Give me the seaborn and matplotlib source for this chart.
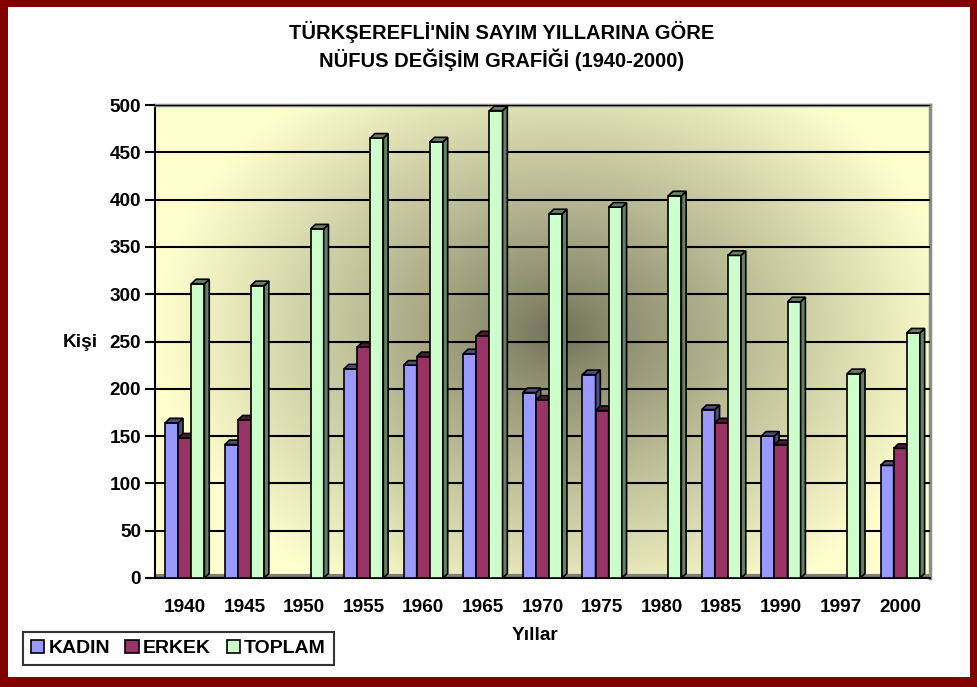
import numpy as np
import pandas as pd
import seaborn as sns
import matplotlib.pyplot as plt
from matplotlib.patches import Polygon, Rectangle, Patch

# --- veri ---
years = ['1940', '1945', '1950', '1955', '1960', '1965', '1970',
         '1975', '1980', '1985', '1990', '1997', '2000']
kadin = [164, 141, np.nan, 221, 225, 237, 196, 215, np.nan, 178, 150, np.nan, 119]
erkek = [148, 167, np.nan, 244, 234, 256, 188, 177, np.nan, 164, 141, np.nan, 137]
toplam = [311, 309, 369, 465, 461, 494, 385, 392, 404, 341, 292, 216, 259]
series = ['KADIN', 'ERKEK', 'TOPLAM']
colors = ['#9999FF', '#993366', '#CCFFCC']
side_colors = ['#4D4D80', '#4D1A33', '#668066']

df = pd.DataFrame({
    'Yıl': years * 3,
    'Seri': np.repeat(series, len(years)),
    'Kişi': kadin + erkek + toplam,
})

sns.set_style('white')
plt.rcParams['font.family'] = ['Liberation Sans', 'DejaVu Sans']
plt.rcParams['font.weight'] = 'bold'
plt.rcParams['text.color'] = 'black'
plt.rcParams['xtick.color'] = 'black'
plt.rcParams['ytick.color'] = 'black'
plt.rcParams['xtick.labelcolor'] = 'black'
plt.rcParams['ytick.labelcolor'] = 'black'

fig = plt.figure(figsize=(9.77, 6.87), dpi=100, facecolor='#800000')
# beyaz iç alan (bordo çerçeve)
fig.patches.append(Rectangle((8 / 977, 10 / 687), (977 - 15) / 977, (687 - 17) / 687,
                             transform=fig.transFigure, fc='white', ec='none', zorder=-10))

ax = fig.add_axes([155 / 977, (687 - 578) / 687, 775 / 977, 473 / 687])

# --- arka plan: ortadan koyulaşan degrade ---
gx, gy = np.meshgrid(np.linspace(0, 1, 300), np.linspace(1, 0, 200))
d = np.sqrt(((gx - 0.52) / 0.52) ** 2 + ((gy - 0.52) / 0.65) ** 2)
t = np.clip(d, 0, 1) ** 0.85
c0 = np.array([112, 112, 88]) / 255
c1 = np.array([255, 255, 206]) / 255
grad = c0 + (c1 - c0) * t[..., None]
ax.imshow(grad, extent=(-0.5, 12.5, 0, 500), aspect='auto', zorder=0,
          interpolation='bilinear')

sns.barplot(data=df, x='Yıl', y='Kişi', hue='Seri', hue_order=series, order=years,
            palette=colors, saturation=1, width=0.66, edgecolor='black',
            linewidth=1.2, errorbar=None, legend=False, ax=ax)

# --- 3B görünüm: yan ve üst yüzler ---
dx, dy = 0.08, 4.8
for i, cont in enumerate(ax.containers):
    for bar in cont:
        x, w, h = bar.get_x(), bar.get_width(), bar.get_height()
        if not np.isfinite(h):
            continue
        bar.set_zorder(3 + i)
        side = Polygon([(x + w, 0), (x + w + dx, dy), (x + w + dx, h + dy), (x + w, h)],
                       closed=True, fc=side_colors[i], ec='black', lw=1.2, zorder=3 + i)
        top = Polygon([(x, h), (x + dx, h + dy), (x + w + dx, h + dy), (x + w, h)],
                      closed=True, fc=side_colors[i], ec='black', lw=1.2, zorder=3 + i)
        ax.add_patch(side)
        ax.add_patch(top)

# zemin
ax.axhline(2.5, color='#808080', lw=3, zorder=1)

ax.set_xlim(-0.5, 12.5)
ax.set_ylim(0, 500)
ax.set_yticks(np.arange(0, 501, 50))
ax.yaxis.grid(True, color='black', lw=1.5, zorder=1)
ax.xaxis.grid(False)
ax.set_axisbelow(False)
for gl in ax.get_ygridlines():
    gl.set_zorder(1)

ax.set_xticks(range(len(years)))
ax.set_xticklabels(years)
ax.set_xticks(np.arange(-0.5, 13, 1), minor=True)
ax.tick_params(axis='x', which='major', length=0, pad=15, labelsize=13.7)
ax.tick_params(axis='x', which='minor', length=7, width=1.5, color='black', direction='out')
ax.tick_params(axis='y', length=7, width=1.5, color='black', direction='out', pad=3,
               labelsize=13.7, left=True)
for lab in ax.get_xticklabels() + ax.get_yticklabels():
    lab.set_fontweight('bold')

ax.set_xlabel('')
ax.set_ylabel('')
for s in ['left', 'bottom']:
    ax.spines[s].set_color('black')
    ax.spines[s].set_linewidth(1.5)
for s in ['top', 'right']:
    ax.spines[s].set_color('#8c8c8c')
    ax.spines[s].set_linewidth(2.5)

# --- metinler ---
fig.text(502 / 977, 1 - 32 / 687, "TÜRKŞEREFLİ'NİN SAYIM YILLARINA GÖRE",
         ha='center', va='center', fontsize=14.5, fontweight='bold')
fig.text(502 / 977, 1 - 60 / 687, "NÜFUS DEĞİŞİM GRAFİĞİ (1940-2000)",
         ha='center', va='center', fontsize=14.5, fontweight='bold')
fig.text(80 / 977, 1 - 342 / 687, 'Kişi', ha='center', va='center',
         fontsize=13.7, fontweight='bold')
fig.text(535 / 977, 1 - 636 / 687, 'Yıllar', ha='center', va='center',
         fontsize=13.7, fontweight='bold')

handles = [Patch(fc=c, ec='black', lw=1.2) for c in colors]
leg = fig.legend(handles, series, loc='lower left', bbox_to_anchor=(23 / 977, 22 / 687),
                 ncol=3, frameon=True, fancybox=False, edgecolor='black',
                 borderpad=0.4, handlelength=0.7, handleheight=0.7,
                 handletextpad=0.2, columnspacing=0.8, borderaxespad=0,
                 prop={'size': 14, 'weight': 'bold'})
leg.get_frame().set_linewidth(1.5)

fig.savefig('out.png', dpi=100, facecolor=fig.get_facecolor())
